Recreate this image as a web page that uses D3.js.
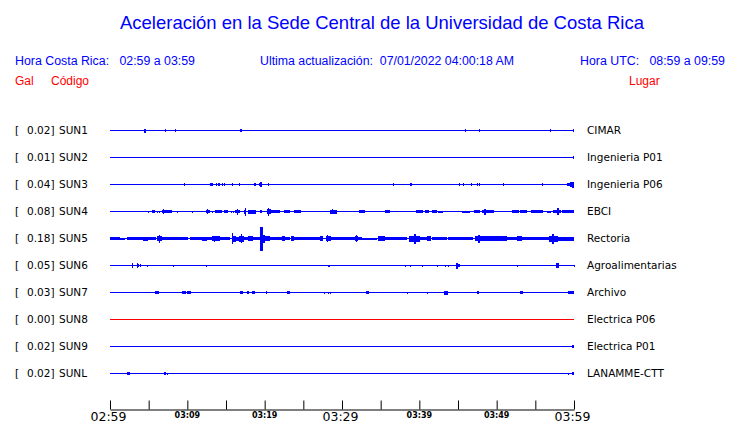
<!DOCTYPE html>
<html><head><meta charset="utf-8">
<script src="https://cdn.jsdelivr.net/npm/d3@7"></script>
<style>
html,body{margin:0;padding:0;background:#fff;}
svg{display:block;}
</style></head>
<body>
<svg id="chart" width="740" height="423"></svg>
<script>
// ---------- DATA ----------
const titleText = "Aceleración en la Sede Central de la Universidad de Costa Rica";
const localRange = "Hora Costa Rica:   02:59 a 03:59";
const updated = "Ultima actualización:  07/01/2022 04:00:18 AM";
const utcRange = "Hora UTC:   08:59 a 09:59";
const colHeaders = ["Gal", "Código", "Lugar"];

const codes = ["SUN1","SUN2","SUN3","SUN4","SUN5","SUN6","SUN7","SUN8","SUN9","SUNL"];
const gals = [0.02,0.01,0.04,0.08,0.18,0.05,0.03,0.00,0.02,0.02];
const places = ["CIMAR","Ingenieria P01","Ingenieria P06","EBCI","Rectoria","Agroalimentarias","Archivo","Electrica P06","Electrica P01","LANAMME-CTT"];

const startTime = "02:59";
const tickLabels = ["02:59","03:09","03:19","03:29","03:39","03:49","03:59"];
const majorLabels = ["02:59","03:29","03:59"];

// events: [start minute, end minute, half amplitude in Gal] (minutes after 02:59)
const sun1Events = [[4.4,4.7,0.03],[7.15,7.15,0.02],[8.44,8.44,0.02],[16.8,17.1,0.02],[45.3,45.3,0.01],[45.94,45.94,0.02],[47.75,47.75,0.02],[56.94,56.94,0.02],[59.81,60,0.02]];
const sun2Events = [[59.39,59.39,0.01],[59.83,60,0.02]];
const sun3Events = [[3.79,3.79,0.01],[9.61,9.61,0.02],[12.97,13.41,0.02],[13.75,13.75,0.02],[13.97,14.22,0.02],[14.52,14.52,0.02],[14.78,14.78,0.02],[15.84,15.97,0.02],[16.68,16.87,0.02],[18.66,18.88,0.02],[19.23,19.23,0.02],[19.46,19.66,0.04],[20.47,20.47,0.02],[36.63,36.63,0.02],[38.79,38.99,0.02],[45.17,45.17,0.02],[45.71,45.84,0.02],[46.72,46.72,0.02],[47.5,47.5,0.02],[47.75,47.75,0.02],[48.79,48.79,0.01],[50.34,50.34,0.01],[50.86,50.86,0.02],[51.12,51.12,0.01],[55.9,55.9,0.02],[59.05,59.5,0.02],[59.5,59.8,0.035],[59.8,60,0.045]];
const sun4Events = [[0.87,0.87,0.01],[4.87,4.87,0.015],[5.39,5.82,0.02],[6.12,6.12,0.015],[6.3,6.3,0.015],[6.69,7.98,0.022],[6.79,6.98,0.04],[8.62,8.62,0.015],[10.56,10.56,0.015],[11.73,11.73,0.01],[12.41,12.93,0.022],[12.5,12.6,0.035],[13.15,13.15,0.015],[13.58,14.44,0.018],[14.74,15.3,0.018],[15.61,15.61,0.015],[15.87,15.87,0.015],[16.16,16.81,0.025],[16.4,16.55,0.045],[17.37,17.68,0.03],[17.45,17.55,0.06],[17.88,18.97,0.03],[19.4,19.62,0.02],[20.26,20.78,0.035],[20.4,20.55,0.06],[20.78,21.98,0.022],[22.5,23.28,0.018],[23.79,24.66,0.018],[28.45,29.31,0.03],[28.7,28.85,0.04],[32.2,32.93,0.025],[35.56,36.21,0.02],[39.57,40.51,0.025],[40.69,41.16,0.02],[41.64,42.25,0.025],[42.45,43.1,0.015],[44.91,44.91,0.01],[45.48,46.55,0.015],[47.07,47.84,0.018],[48.06,49.56,0.022],[48.36,48.62,0.045],[51.94,52.8,0.018],[53.02,53.88,0.018],[54.44,56.03,0.018],[56.47,56.99,0.015],[57.32,58.41,0.025],[57.8,58.06,0.055],[58.41,60,0.02]];
const sun5Events = [[0,1.29,0.025],[1.29,1.94,0.015],[2.16,4.31,0.02],[4.31,4.95,0.03],[4.95,6.04,0.022],[6.04,6.69,0.035],[6.3,6.45,0.06],[6.69,8.83,0.022],[8.83,10.12,0.02],[10.34,11.86,0.02],[11.86,12.5,0.03],[12.5,13.15,0.022],[13.15,14.22,0.035],[13.4,13.55,0.045],[14.22,15.52,0.022],[15.74,16.29,0.045],[15.8,15.95,0.085],[16.29,16.72,0.03],[16.72,17.33,0.045],[16.9,17.05,0.065],[17.33,17.88,0.022],[17.88,18.53,0.035],[18.53,19.4,0.022],[19.4,19.75,0.18],[19.75,20.69,0.04],[19.75,19.95,0.06],[20.69,22.2,0.022],[22.2,22.63,0.035],[22.63,23.28,0.022],[23.37,23.79,0.035],[23.79,25.22,0.018],[25.22,27.16,0.022],[27.16,27.58,0.035],[27.93,28.54,0.038],[28.1,28.25,0.05],[28.54,29.09,0.022],[29.09,29.74,0.025],[29.74,31.03,0.018],[31.03,32.55,0.022],[31.68,32.11,0.04],[31.8,31.95,0.05],[32.55,34.49,0.015],[34.69,35.56,0.035],[35.56,38.37,0.022],[38.7,40.09,0.045],[39.35,39.55,0.075],[40.09,40.95,0.022],[41.03,41.6,0.04],[41.6,43.54,0.025],[43.75,46.98,0.025],[47.2,48.49,0.04],[47.6,47.8,0.06],[48.49,51.3,0.033],[51.3,52.59,0.022],[52.59,53.24,0.035],[53.24,56.9,0.025],[56.81,57.97,0.045],[57.2,57.45,0.075],[57.97,60,0.03]];
const sun6Events = [[2.81,2.81,0.035],[3.49,3.49,0.035],[3.58,3.69,0.02],[3.88,4.01,0.02],[4.82,4.82,0.015],[8.19,8.32,0.015],[12.45,12.45,0.015],[16.07,16.07,0.008],[22.54,22.54,0.008],[28.15,28.36,0.015],[38.19,38.19,0.015],[38.83,38.83,0.015],[40.38,40.38,0.015],[42.32,42.32,0.015],[43.36,43.36,0.015],[43.75,43.75,0.015],[44.74,44.95,0.045],[44.95,45.17,0.02],[47.24,47.24,0.01],[52.69,52.82,0.015],[57.67,58.1,0.035],[59.94,60,0.015]];
const sun7Events = [[5.82,6.34,0.018],[9.31,9.79,0.018],[9.96,10.44,0.018],[16.81,17.24,0.018],[17.68,17.97,0.018],[18.36,18.75,0.018],[20.17,20.17,0.02],[22.93,23.28,0.018],[23.62,23.62,0.01],[24.05,24.05,0.01],[24.79,24.79,0.01],[25.25,25.25,0.01],[27.71,27.71,0.015],[28.23,28.23,0.015],[28.49,28.49,0.015],[33.1,33.49,0.018],[38.44,38.44,0.015],[38.96,38.96,0.01],[39.18,39.18,0.01],[41.03,41.03,0.015],[43.23,43.75,0.03],[47.46,47.68,0.018],[53.02,53.44,0.018],[59.22,60,0.022]];
const sun8Events = [];
const sun9Events = [[59.39,59.39,0.01],[59.78,60,0.018]];
const sunlEvents = [[2.16,2.59,0.018],[3.01,3.01,0.01],[6.94,7.24,0.018],[7.41,7.41,0.015],[56.51,56.51,0.01],[59.26,59.26,0.015],[59.78,60,0.02]];
const traceEvents = [sun1Events,sun2Events,sun3Events,sun4Events,sun5Events,sun6Events,sun7Events,sun8Events,sun9Events,sunlEvents];

// ---------- DRAW ----------
const svg = d3.select("#chart");
const BLUE = "#0000ff", RED = "#ff0000";
const sans = "'Liberation Sans', Arial, Helvetica, sans-serif";
const dv = "'DejaVu Sans', sans-serif";

const t0 = d3.timeParse("%H:%M")(startTime);
const minToDate = m => new Date(t0.getTime() + m * 60000);
const x = d3.scaleTime().domain([t0, minToDate(60)]).range([110, 574]);
const row = d3.scalePoint().domain(codes).range([130.5, 373.5]);
const amp = d3.scaleLinear().domain([0, 0.18]).range([0, 12]);

// header
svg.append("text").attr("x", 120).attr("y", 29).attr("font-family", sans).attr("font-size", 19)
  .attr("fill", BLUE).attr("textLength", 524).attr("lengthAdjust", "spacingAndGlyphs").text(titleText);
const hdr = [[localRange, 15, 180], [updated, 260, 254], [utcRange, 580, 145]];
hdr.forEach(([t, xx, w]) => svg.append("text").attr("x", xx).attr("y", 65).attr("font-family", sans)
  .attr("font-size", 12).attr("fill", BLUE).attr("textLength", w).attr("lengthAdjust", "spacingAndGlyphs")
  .style("white-space", "pre").text(t));
[[colHeaders[0], 15], [colHeaders[1], 51], [colHeaders[2], 629]].forEach(([t, xx]) =>
  svg.append("text").attr("x", xx).attr("y", 85).attr("font-family", sans).attr("font-size", 12)
    .attr("fill", RED).text(t));

// rows
const g = svg.append("g").attr("shape-rendering", "crispEdges");
codes.forEach((c, i) => {
  const y = row(c);
  const col = gals[i] > 0 ? BLUE : RED;
  const ly = y + 3.3;
  svg.append("text").attr("x", 15).attr("y", ly).attr("font-family", dv).attr("font-size", 10.5).text("[");
  svg.append("text").attr("x", 54.5).attr("y", ly).attr("font-family", dv).attr("font-size", 10.5)
    .attr("text-anchor", "end").text(d3.format(".2f")(gals[i]) + "]");
  svg.append("text").attr("x", 59).attr("y", ly).attr("font-family", dv).attr("font-size", 10.5).text(c);
  svg.append("text").attr("x", 587).attr("y", ly).attr("font-family", dv).attr("font-size", 10.5).text(places[i]);
  // baseline
  g.append("rect").attr("x", x(minToDate(0))).attr("y", y - 0.5)
    .attr("width", x(minToDate(60)) - x(minToDate(0))).attr("height", 1).attr("fill", col);
  // bursts
  g.selectAll(null).data(traceEvents[i]).enter().append("rect")
    .attr("x", d => Math.round(x(minToDate(d[0]))) - (d[1] === d[0] ? 0.5 : 0))
    .attr("width", d => Math.max(1, x(minToDate(d[1])) - x(minToDate(d[0]))))
    .attr("y", d => y - Math.max(0.5, amp(d[2])))
    .attr("height", d => 2 * Math.max(0.5, amp(d[2])))
    .attr("fill", col);
});

// time axis
const tickTimes = d3.range(0, 61, 5).map(minToDate);
const fmt = d3.timeFormat("%H:%M");
const axis = d3.axisBottom(x).tickValues(tickTimes).tickSizeInner(-9).tickSizeOuter(0).tickFormat("");
const ax = svg.append("g").attr("transform", "translate(0,409.5)").call(axis);
ax.select(".domain").attr("stroke", "#000");
ax.selectAll(".tick line").attr("stroke", "#000");
tickTimes.forEach(t => {
  const lab = fmt(t);
  if (!tickLabels.includes(lab)) return;
  const big = majorLabels.includes(lab);
  svg.append("text").attr("x", x(t) - (big ? 1.5 : 0)).attr("y", big ? 421 : 418)
    .attr("text-anchor", "middle").attr("font-family", dv)
    .attr("font-size", big ? 12.5 : 8).attr("font-weight", big ? "normal" : "bold")
    .text(lab);
});
</script>
</body></html>
